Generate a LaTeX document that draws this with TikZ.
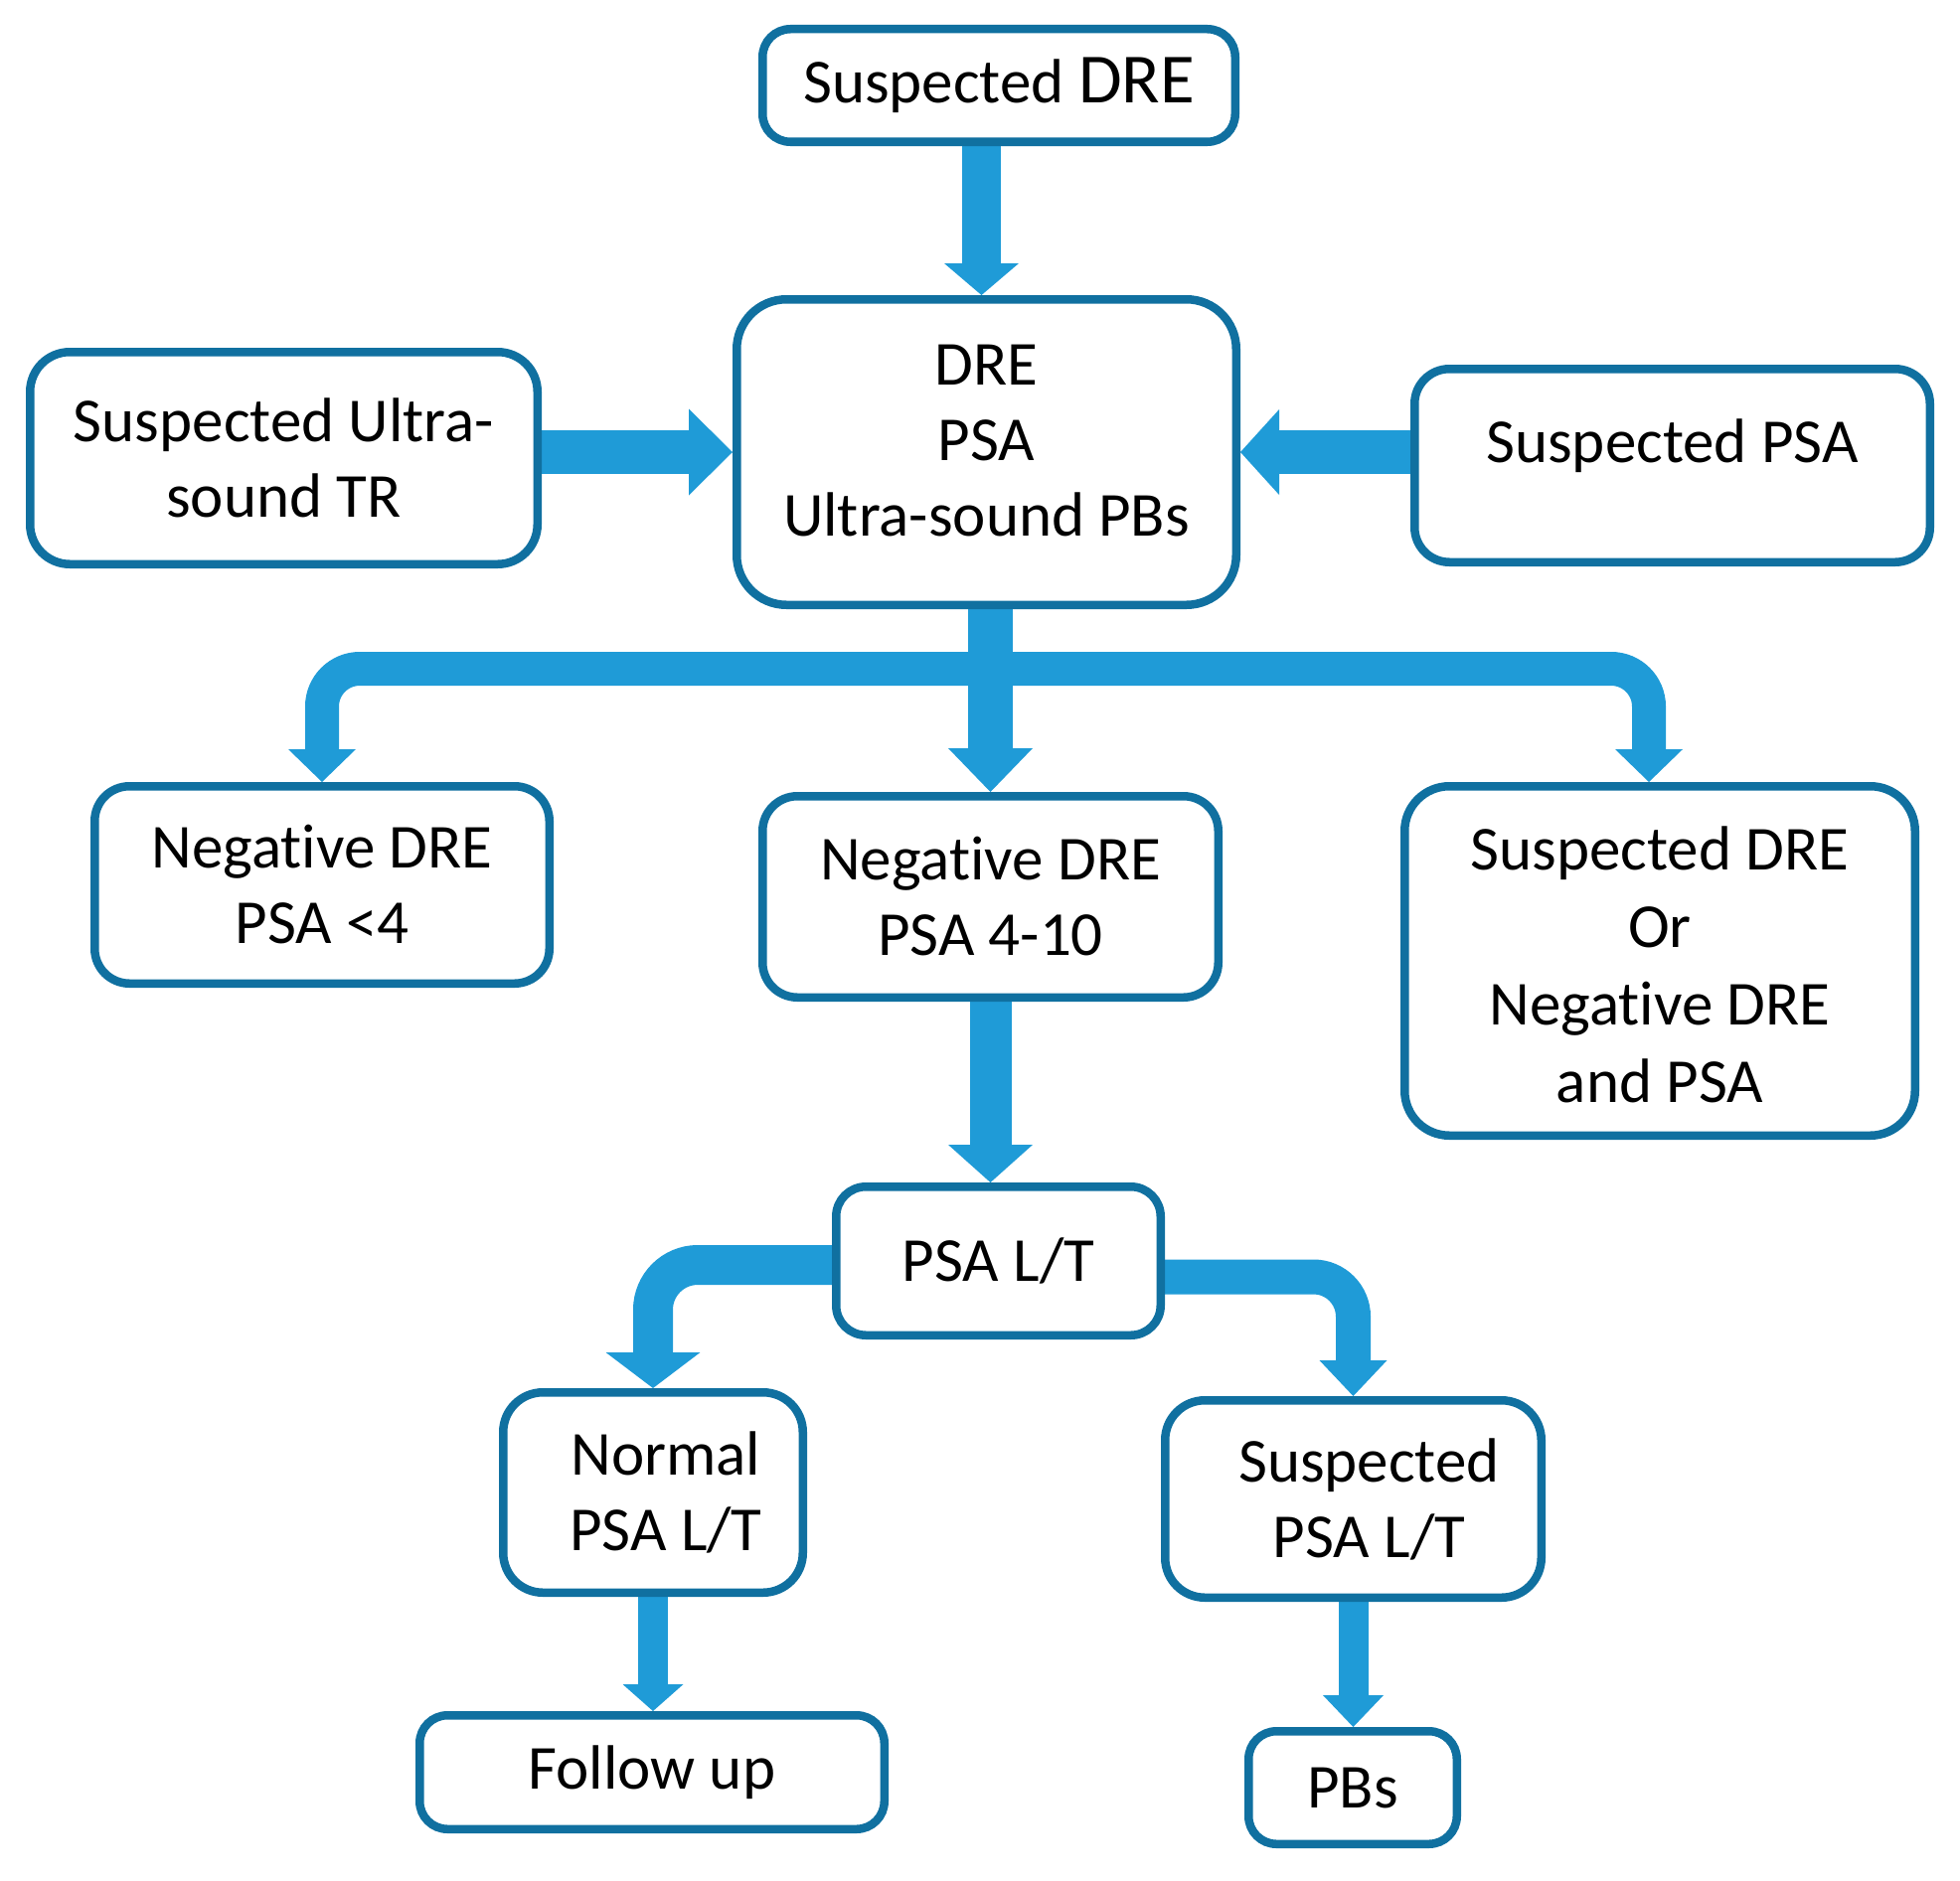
\documentclass[tikz,border=0pt]{standalone}
\usepackage{fontspec}
\setmainfont{Carlito}[Ligatures=NoCommon]
\usetikzlibrary{arrows.meta}
\definecolor{boxblue}{RGB}{16,112,160}
\definecolor{arrblue}{RGB}{31,155,215}
\pgfdeclarelayer{bg}
\pgfsetlayers{bg,main}
\tikzset{
  box/.style={draw=boxblue, line width=8.5pt, fill=white, rounded corners=35pt,
    align=center, inner sep=0pt, text=black,
    font=\fontsize{63}{76}\selectfont},
  barrow/.style n args={3}{draw=arrblue, line width=#1, line cap=butt,
    -{Triangle[width=#2, length=#3, line width=0pt, fill=arrblue]}},
}
\begin{document}
\begin{tikzpicture}[x=1pt, y=-1pt]
\useasboundingbox (0,0) rectangle (1972,1892);
% boxes
\node[box, minimum width=475.5pt, minimum height=113.5pt, rounded corners=28pt] (sdre) at (1005,86) {Suspected {\fontsize{71}{76}\selectfont DRE}};
\node[box, minimum width=502.5pt, minimum height=307.5pt, rounded corners=50pt] (mid) at (992.5,455) {\raisebox{7pt}[\height][\depth]{\begin{tabular}{@{}c@{}}DRE\\PSA\\Ultra-sound PBs\end{tabular}}};
\node[box, minimum width=510.5pt, minimum height=213.5pt, rounded corners=40pt] (sus) at (285.5,461) {Suspected Ultra-\\sound TR};
\node[box, minimum width=518.5pt, minimum height=194.5pt] (spsa) at (1682.5,468.5) {\raisebox{20pt}[\height][\depth]{Suspected PSA}};
\node[box, minimum width=457.5pt, minimum height=198.5pt] (n4) at (324,890.5) {Negative DRE\\PSA <4};
\node[box, minimum width=458.5pt, minimum height=202.5pt] (n410) at (996.5,902.5) {Negative DRE\\PSA 4-10};
\node[box, minimum width=513.5pt, minimum height=351.5pt, rounded corners=45pt, font=\fontsize{63}{78}\selectfont] (sdo) at (1670,967) {\raisebox{-10pt}[\height][\depth]{\begin{tabular}{@{}c@{}}Suspected DRE\\Or\\Negative DRE\\and PSA\end{tabular}}};
\node[box, minimum width=326.5pt, minimum height=149.5pt, rounded corners=30pt] (plt) at (1004.5,1269) {PSA L/T};
\node[box, minimum width=301.5pt, minimum height=201.5pt, rounded corners=40pt] (norm) at (657,1502) {\hspace*{26pt}Normal\\\hspace*{26pt}PSA L/T};
\node[box, minimum width=378.5pt, minimum height=198.5pt, rounded corners=40pt] (slt) at (1361.5,1508.5) {\hspace*{32pt}Suspected\\\hspace*{32pt}PSA L/T};
\node[box, minimum width=467.5pt, minimum height=114.5pt, rounded corners=28pt] (fu) at (656,1783.5) {Follow up};
\node[box, minimum width=209.5pt, minimum height=113.5pt, rounded corners=28pt] (pbs) at (1361,1799) {PBs};
\coordinate (split) at (996.5,673);
% arrows
\begin{pgfonlayer}{bg}
\draw[barrow={39pt}{75pt}{32pt}] ([xshift=-5pt]mid.north |- sdre.south) -- ([xshift=-5pt]mid.north);
\draw[barrow={44pt}{87pt}{44pt}] (sus.east |- mid.west) -- (mid.west);
\draw[barrow={44pt}{86pt}{39pt}] (spsa.west |- mid.east) -- (mid.east);
\draw[barrow={45pt}{85pt}{44pt}] (n410.north |- mid.south) -- (n410.north);
\draw[barrow={34pt}{68pt}{33pt}, rounded corners=38pt] (split) -| (n4.north);
\draw[barrow={34pt}{68pt}{33pt}, rounded corners=38pt] (split) -| ([xshift=-11pt]sdo.north);
\draw[barrow={42pt}{85pt}{38pt}] (n410.south) -- (n410.south |- plt.north);
\draw[barrow={40pt}{95pt}{36pt}, rounded corners=45pt] ([yshift=-4pt]plt.west) -| (norm.north);
\draw[barrow={35pt}{68pt}{36pt}, rounded corners=40pt] ([yshift=-16pt]plt.east) -| (slt.north);
\draw[barrow={30pt}{61pt}{27pt}] (norm.south) -- (norm.south |- fu.north);
\draw[barrow={30pt}{61pt}{32pt}] (slt.south) -- (slt.south |- pbs.north);
\end{pgfonlayer}
\end{tikzpicture}
\end{document}
